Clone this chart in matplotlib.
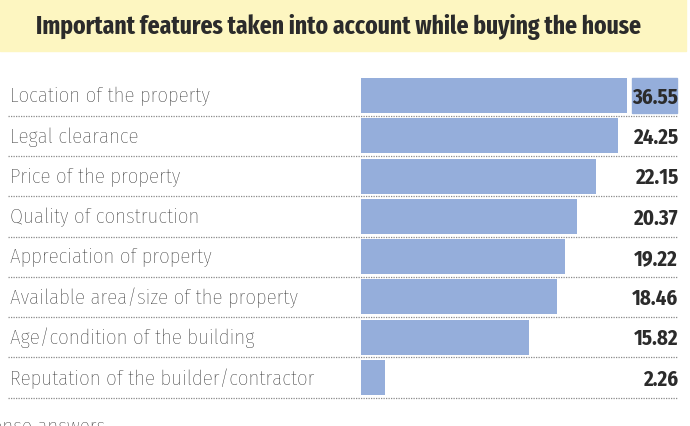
import matplotlib.pyplot as plt
from matplotlib.patches import Rectangle

features = [
    "Location of the property",
    "Legal clearance",
    "Price of the property",
    "Quality of construction",
    "Appreciation of property",
    "Available area/size of the property",
    "Age/condition of the building",
    "Reputation of the builder/contractor",
]
scores = [36.55, 24.25, 22.15, 20.37, 19.22, 18.46, 15.82, 2.26]

title = "Important features taken into account while buying the house"
footnote = "Multiple response answers"

BAR_COLOR = "#95aedb"
BAND_COLOR = "#fdf6c1"
TEXT_COLOR = "#2b2b2b"
LABEL_FONT = ["Fira Sans Condensed", "DejaVu Sans"]
TITLE_FONT = ["Fira Sans Extra Condensed", "DejaVu Sans"]
VALUE_FONT = ["Fira Sans Condensed", "DejaVu Sans"]

W, H = 690, 427
fig = plt.figure(figsize=(W / 100, H / 100), dpi=100)

# title band
fig.patches.append(Rectangle((0, 1 - 52 / H), 686 / W, 52 / H,
                             transform=fig.transFigure, color=BAND_COLOR, zorder=0))
fig.text(339 / W, 1 - 27 / H, title, ha="center", va="center",
         fontsize=18.5, fontweight="bold", family=TITLE_FONT, color=TEXT_COLOR)

# bar axes: x from 361 px to 627 px, rows from 76.5 px to 398.5 px
ax_left, ax_right = 361, 627
ax_top, ax_bottom = 76.5, 398.5
ax = fig.add_axes([ax_left / W, 1 - ax_bottom / H,
                   (ax_right - ax_left) / W, (ax_bottom - ax_top) / H])
ax.set_xlim(0, 25.1)
ax.set_ylim(len(features) - 0.5, -0.5)
ax.axis("off")

bar_h = 0.87
ax.barh(range(len(features)), scores, height=bar_h, color=BAR_COLOR, zorder=2)


def px_to_axfrac(px):
    return (px - ax_left) / (ax_right - ax_left)


tr = ax.get_yaxis_transform()
for i, (name, val) in enumerate(zip(features, scores)):
    ax.text(px_to_axfrac(10), i, name, transform=tr, ha="left", va="center",
            fontsize=15, family=LABEL_FONT, fontweight="light", color="#222222")
    ax.text(px_to_axfrac(678), i + 0.03, f"{val:.2f}", transform=tr, ha="right",
            va="center", fontsize=15, fontweight="bold", family=VALUE_FONT,
            color=TEXT_COLOR, zorder=4)
    # dotted separator under each row
    ax.plot([px_to_axfrac(8), px_to_axfrac(678)], [i + 0.5, i + 0.5], transform=tr,
            color="#8a8a8a", linestyle=(0, (1, 1)), linewidth=0.9, clip_on=False)

# the out-of-scale top value gets a shaded label box
top = scores.index(max(scores))
if max(scores) > ax.get_xlim()[1]:
    ax.add_patch(Rectangle((px_to_axfrac(632), top - bar_h / 2),
                           px_to_axfrac(677) - px_to_axfrac(632), bar_h,
                           transform=tr, color=BAR_COLOR, clip_on=False, zorder=3))

fig.text(105 / W, 1 - 418 / H, footnote, ha="right", va="top", fontsize=15,
         family=LABEL_FONT, fontweight="light", color="#222222")

fig.savefig("out.png", dpi=100)
